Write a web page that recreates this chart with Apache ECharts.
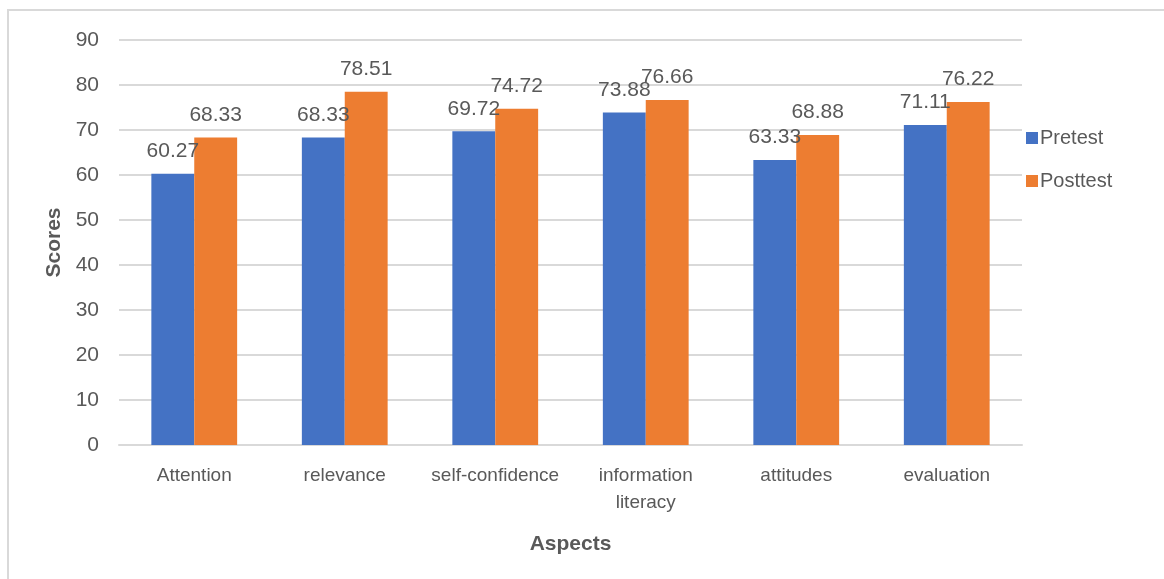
<!DOCTYPE html>
<html>
<head>
<meta charset="utf-8">
<script src="https://cdn.jsdelivr.net/npm/echarts@6/dist/echarts.min.js"></script>
<style>
html,body{margin:0;padding:0;background:#fff;}
#frame{position:absolute;left:7px;top:9px;width:1170px;height:600px;border-top:2px solid #d9d9d9;border-left:2px solid #d9d9d9;box-sizing:border-box;}
#chart{position:absolute;left:0;top:0;width:1164px;height:579px;}
</style>
</head>
<body>
<div id="frame"></div>
<div id="chart"></div>
<script>
const categories = ['Attention', 'relevance', 'self-confidence', 'information\nliteracy', 'attitudes', 'evaluation'];
const pretest = [60.27, 68.33, 69.72, 73.88, 63.33, 71.11];
const posttest = [68.33, 78.51, 74.72, 76.66, 68.88, 76.22];
const yTicks = { min: 0, max: 90, interval: 10 };

const FONT = '"Liberation Sans Narrow", "Arial Narrow", "Liberation Sans", Arial, sans-serif';
const TXT = '#595959';
const chart = echarts.init(document.getElementById('chart'));
chart.setOption({
  animation: false,
  textStyle: { fontFamily: FONT },
  grid: { left: 119, right: 142, top: 40, bottom: 134, containLabel: false },
  legend: {
    orient: 'vertical', left: 1021, top: 123,
    itemWidth: 12, itemHeight: 12, itemGap: 23,
    icon: 'rect',
    textStyle: { fontFamily: FONT, fontSize: 20, color: TXT, padding: [0, 0, 0, -3] },
    data: ['Pretest', 'Posttest']
  },
  xAxis: {
    type: 'category', data: categories,
    name: 'Aspects', nameLocation: 'middle', nameGap: 89,
    nameTextStyle: { fontFamily: FONT, fontSize: 21, fontWeight: 'bold', color: TXT },
    axisLine: { lineStyle: { color: '#d9d9d9', width: 2 } },
    axisTick: { show: false },
    axisLabel: { interval: 0, fontFamily: FONT, fontSize: 19, color: TXT, margin: 17, lineHeight: 27 }
  },
  yAxis: {
    type: 'value', min: yTicks.min, max: yTicks.max, interval: yTicks.interval,
    name: 'Scores', nameLocation: 'middle', nameGap: 47,
    nameTextStyle: { fontFamily: FONT, fontSize: 21, fontWeight: 'bold', color: TXT },
    axisLine: { show: false }, axisTick: { show: false },
    axisLabel: { fontFamily: FONT, fontSize: 21, color: TXT, margin: 20 },
    splitLine: { lineStyle: { color: '#d9d9d9', width: 2 } }
  },
  series: [
    {
      name: 'Pretest', type: 'bar', data: pretest,
      barGap: '0%', barCategoryGap: '43%',
      itemStyle: { color: '#4472C4' },
      label: { show: true, position: 'top', distance: 12, fontFamily: FONT, fontSize: 21, color: TXT }
    },
    {
      name: 'Posttest', type: 'bar', data: posttest,
      itemStyle: { color: '#ED7D31' },
      label: { show: true, position: 'top', distance: 12, fontFamily: FONT, fontSize: 21, color: TXT }
    }
  ]
});
</script>
</body>
</html>
